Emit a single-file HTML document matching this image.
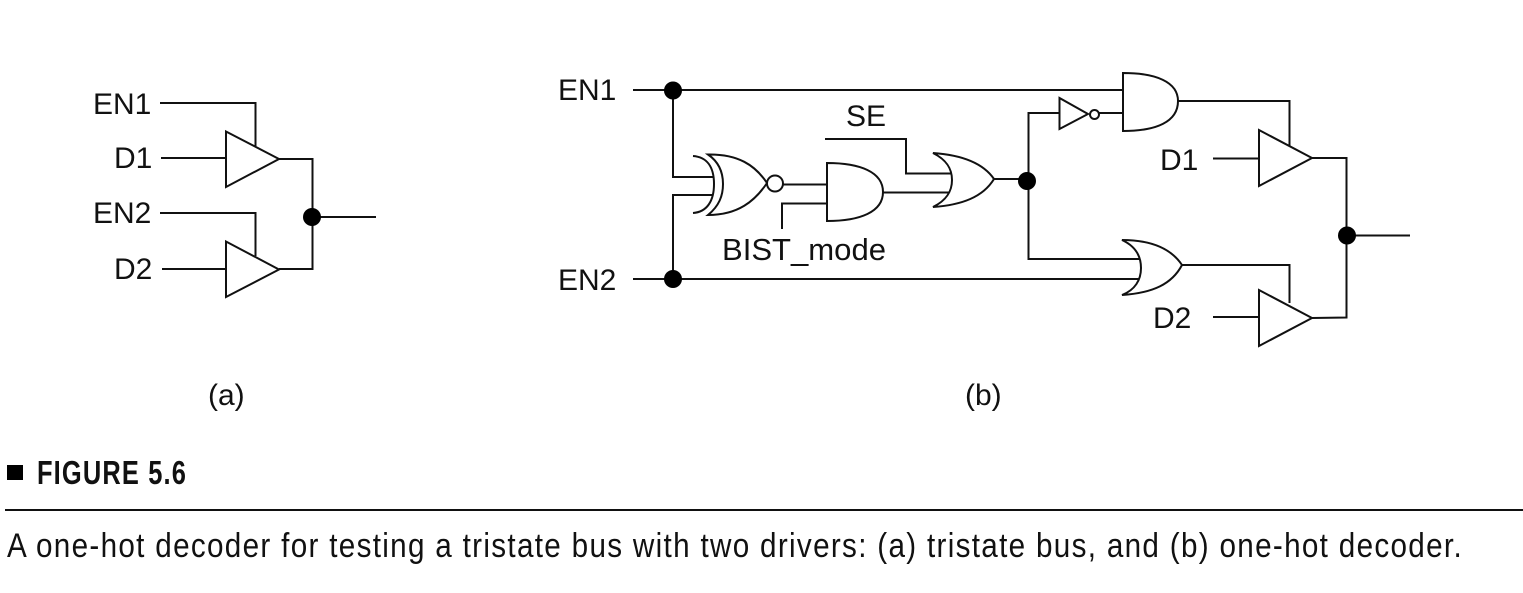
<!DOCTYPE html>
<html><head><meta charset="utf-8"><style>
html,body{margin:0;padding:0;background:#fff;width:1523px;height:593px;overflow:hidden}
svg{display:block}
text{font-family:"Liberation Sans",sans-serif;fill:#111}
.l{font-size:30px}
.w{fill:none;stroke:#111;stroke-width:2}
.g{fill:#fff;stroke:#111;stroke-width:2;stroke-linejoin:miter}
</style></head><body>
<svg width="1523" height="593" viewBox="0 0 1523 593" xmlns="http://www.w3.org/2000/svg">
<!-- (a) -->
<path class="w" d="M160 103H255.500V146M161 158H226M279 159H312.500V269H279M160 213H255.500V256M162 269H226M312 217H376"/>
<path class="g" d="M226 131.500V187L279 159Z"/>
<path class="g" d="M226 241.500V297L279 269.500Z"/>
<circle cx="312" cy="217" r="9" fill="#000"/>
<text class="l" x="93" y="114">EN1</text>
<text class="l" x="114" y="168">D1</text>
<text class="l" x="93" y="223">EN2</text>
<text class="l" x="114" y="279">D2</text>
<text class="l" x="208" y="405">(a)</text>
<!-- (b) wires -->
<path class="w" d="M633 90H1123M633 279H1141M673 90V177H713M673 279V195H713"/>
<path class="w" d="M783 184.500H827M827 203.500H782V229M825 139H906V173.500H951M883 192.500H951M994 179H1028M1059 113H1028.500V259H1141M1099 113H1123"/>
<path class="w" d="M1178 101H1289.500V146M1182 265H1289.500V303M1213 158.500H1259M1213 317H1259M1312 158H1346.500V317.500L1312 318M1347 235.500H1410"/>
<!-- XNOR -->
<path class="w" d="M693 156C707 157 714 167 714 184C714 201 707 212 693 213"/>
<path class="g" d="M708 154.500C738 154 755 165 767 183C755 201 738 215 708 215C719 206 723 196 723 184C723 172 719 162 708 154.500Z"/>
<circle class="g" cx="775" cy="183.500" r="8"/>
<!-- AND -->
<path class="g" d="M827 163V221C860 221 883 212 883 192C883 172 860 163 827 163Z"/>
<!-- OR -->
<path class="g" d="M933 153C962 155 983 163 994 179C983 197 962 205 933 207C947 200 952 191 952 180C952 169 947 160 933 153Z"/>
<!-- junction -->
<circle cx="673" cy="90.500" r="9" fill="#000"/>
<circle cx="673" cy="279" r="9" fill="#000"/>
<circle cx="1027" cy="181" r="9" fill="#000"/>
<circle cx="1347" cy="235.500" r="9" fill="#000"/>
<!-- inverter -->
<path class="g" d="M1059.500 98V129L1088 114Z"/>
<circle class="g" cx="1094.500" cy="114.500" r="4.500"/>
<!-- AND2 -->
<path class="g" d="M1123 73V131C1156 131 1178 122 1178 101C1178 82 1156 73 1123 73Z"/>
<!-- OR2 -->
<path class="g" d="M1122 240C1153 240 1172 250 1182 265C1172 284 1153 293 1122 295C1135 290 1141 280 1141 268C1141 256 1135 246 1122 240Z"/>
<!-- tristate -->
<path class="g" d="M1259 130V186L1312 158Z"/>
<path class="g" d="M1259 290V346L1312 318Z"/>
<text class="l" x="558" y="100">EN1</text>
<text class="l" x="558" y="290">EN2</text>
<text class="l" x="846" y="126">SE</text>
<text x="722" y="260" font-size="31" textLength="164" lengthAdjust="spacingAndGlyphs">BIST_mode</text>
<text class="l" x="1160" y="170">D1</text>
<text class="l" x="1153" y="328">D2</text>
<text class="l" x="965" y="405">(b)</text>
<!-- caption -->
<rect x="7" y="465" width="16" height="15" fill="#000"/>
<text x="37" y="484" font-size="33" font-weight="700" letter-spacing="1.5" textLength="150" lengthAdjust="spacingAndGlyphs">FIGURE 5.6</text>
<rect x="5" y="509" width="1523" height="2" fill="#111"/>
<text x="7" y="557" font-size="34" letter-spacing="1.5" textLength="1456" lengthAdjust="spacingAndGlyphs">A one-hot decoder for testing a tristate bus with two drivers: (a) tristate bus, and (b) one-hot decoder.</text>
</svg>
</body></html>
